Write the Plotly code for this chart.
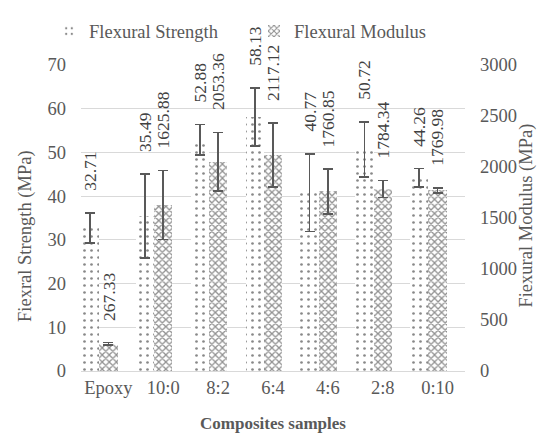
import plotly.graph_objects as go

categories = ["Epoxy", "10:0", "8:2", "6:4", "4:6", "2:8", "0:10"]
strength = [32.71, 35.49, 52.88, 58.13, 40.77, 50.72, 44.26]
strength_err = [3.4, 9.6, 3.5, 6.6, 8.9, 6.3, 2.1]
modulus = [267.33, 1625.88, 2053.36, 2117.12, 1760.85, 1784.34, 1769.98]
modulus_err = [12, 338, 286, 315, 219, 85, 27]
left_ticks = [0, 10, 20, 30, 40, 50, 60, 70]
right_ticks = [0, 500, 1000, 1500, 2000, 2500, 3000]

FONT = "Liberation Serif"
FS = 18.5
FL = 17.5
GRAY = "#595959"
ERR = "#595959"

fig = go.Figure()
idx = list(range(len(categories)))

fig.add_trace(go.Bar(
    x=categories, y=strength, name="Flexural Strength",
    width=1/3, offset=-0.5,
    marker=dict(color="white", line=dict(width=0),
                pattern=dict(shape=".", fgcolor="#111111", bgcolor="white",
                             size=7, solidity=0.12, fillmode="overlay")),
    error_y=dict(type="data", array=strength_err, visible=True,
                 color=ERR, thickness=1.6, width=5),
    yaxis="y", cliponaxis=False,
))
fig.add_trace(go.Bar(
    x=categories, y=modulus, name="Flexural Modulus",
    width=1/3, offset=-1/6,
    marker=dict(color="white", line=dict(width=0),
                pattern=dict(shape="x", fgcolor="#222222", bgcolor="white",
                             size=5, solidity=0.45, fillmode="overlay")),
    error_y=dict(type="data", array=modulus_err, visible=True,
                 color=ERR, thickness=1.6, width=5),
    yaxis="y2", cliponaxis=False,
))

annotations = []
for i in idx:
    annotations.append(dict(
        x=i - 1/3, y=strength[i] + strength_err[i], xref="x", yref="y",
        text=f"{strength[i]:.2f}", textangle=-90, showarrow=False,
        xanchor="center", yanchor="bottom", yshift=20,
        font=dict(family=FONT, size=FL, color="#404040")))
    annotations.append(dict(
        x=i, y=modulus[i] + modulus_err[i], xref="x", yref="y2",
        text=f"{modulus[i]:.2f}", textangle=-90, showarrow=False,
        xanchor="center", yanchor="bottom", yshift=20,
        font=dict(family=FONT, size=FL, color="#404040")))

L, R, T, B = 81, 74, 56, 67
PW, PH = 539 - L - R, 438 - T - B
def px(xp):
    return (xp - L) / PW
def py(yp):
    return (438 - B - yp) / PH

annotations.append(dict(
    x=px(26), y=py(232), xref="paper", yref="paper",
    text="Fiexral Strength (MPa)", textangle=-90, showarrow=False,
    xanchor="center", yanchor="middle",
    font=dict(family=FONT, size=FS, color=GRAY)))
annotations.append(dict(
    x=px(527), y=py(211), xref="paper", yref="paper",
    text="Fiexural Modulus (MPa)", textangle=-90, showarrow=False,
    xanchor="center", yanchor="middle",
    font=dict(family=FONT, size=FS, color=GRAY)))
annotations.append(dict(
    x=px(273), y=py(425), xref="paper", yref="paper",
    text="<b>Composites samples</b>", showarrow=False,
    xanchor="center", yanchor="middle",
    font=dict(family=FONT, size=17, color=GRAY)))

fig.update_layout(
    width=539, height=438,
    margin=dict(l=L, r=R, t=T, b=B),
    paper_bgcolor="white", plot_bgcolor="white",
    barmode="overlay", bargap=0,
    font=dict(family=FONT, size=FS, color=GRAY),
    showlegend=True,
    legend=dict(orientation="h", x=px(49), y=py(2), xanchor="left", yanchor="top",
                font=dict(family=FONT, size=FS, color=GRAY),
                itemwidth=30, entrywidth=160, bgcolor="rgba(0,0,0,0)"),
    xaxis=dict(type="category", categoryorder="array", categoryarray=categories,
               range=[-0.5, 6.5], showgrid=False, showline=True,
               linecolor="#d9d9d9", linewidth=1, ticks="",
               tickfont=dict(family=FONT, size=FS, color=GRAY)),
    yaxis=dict(range=[0, 70], tickvals=left_ticks, showgrid=True,
               gridcolor="#d9d9d9", gridwidth=1, zeroline=False, ticks="",
               ticklabelstandoff=14,
               tickfont=dict(family=FONT, size=FS, color=GRAY)),
    yaxis2=dict(range=[0, 3000], tickvals=right_ticks, overlaying="y",
                side="right", showgrid=False, zeroline=False, ticks="",
                ticklabelstandoff=14,
                tickfont=dict(family=FONT, size=FS, color=GRAY)),
    annotations=annotations,
)

fig.write_html("out.html")
